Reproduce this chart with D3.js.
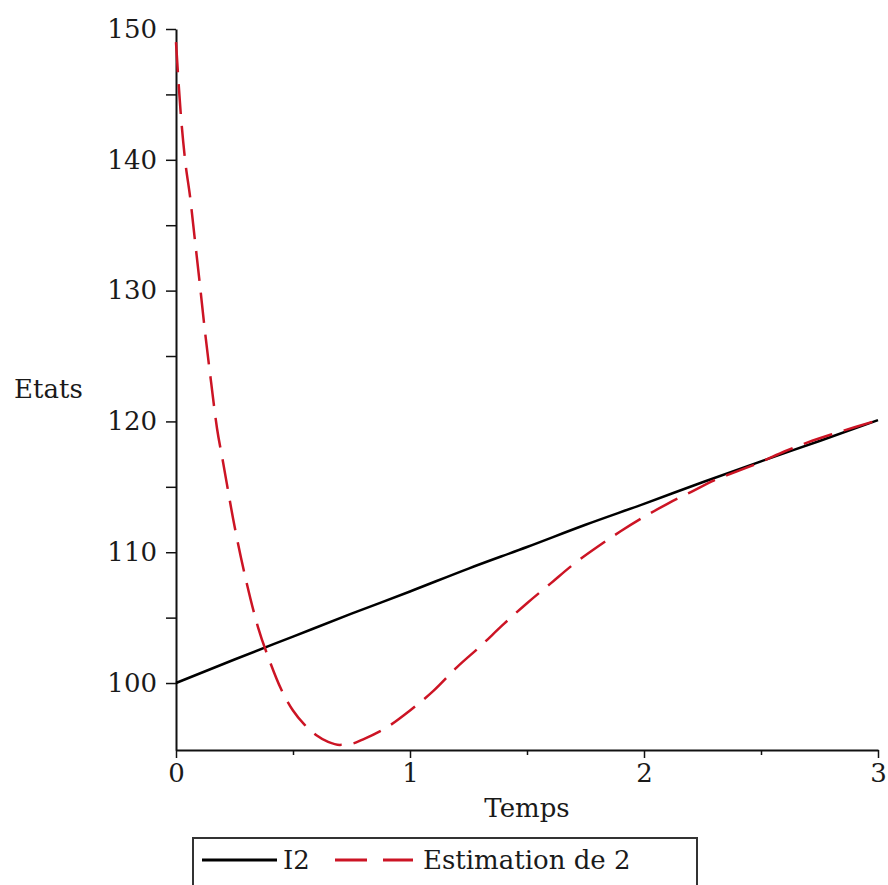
<!DOCTYPE html>
<html>
<head>
<meta charset="utf-8">
<script src="https://cdn.jsdelivr.net/npm/d3@7"></script>
<style>
  body { margin: 0; background: #fff; }
  text { font-family: "DejaVu Serif", serif; fill: #1a1a1a; }
</style>
</head>
<body>
<div id="chart"></div>
<script>
// I2 (black solid line)
const timeI2 = [0, 0.25, 0.5, 0.75, 1, 1.25, 1.5, 1.75, 2, 2.25, 2.5, 2.75, 3];
const valuesI2 = [100, 101.8, 103.55, 105.3, 107.0, 108.75, 110.4, 112.1, 113.7, 115.35, 116.95, 118.5, 120.1];

// Estimation de 2 (red dashed line)
const timeEst = [0, 0.02, 0.04, 0.06, 0.08, 0.1, 0.125, 0.15, 0.175, 0.2, 0.25, 0.3, 0.35, 0.4, 0.45, 0.5, 0.55,
  0.6, 0.65, 0.7, 0.75, 0.8, 0.9, 1.0, 1.1, 1.2, 1.3, 1.4, 1.5, 1.6, 1.7, 1.8, 1.9, 2.0, 2.1, 2.2, 2.3, 2.4, 2.5,
  2.6, 2.7, 2.8, 2.9, 3.0];
const valuesEst = [149, 143.6, 139.8, 137.2, 134.0, 130.8, 126.7, 123.0, 119.5, 117.0, 112.0, 107.8, 104.3, 101.7,
  99.5, 97.9, 96.8, 96.0, 95.5, 95.27, 95.35, 95.7, 96.6, 97.9, 99.4, 101.2, 102.8, 104.5, 106.1, 107.6, 109.1,
  110.4, 111.6, 112.7, 113.7, 114.6, 115.5, 116.2, 116.9, 117.7, 118.4, 119.0, 119.55, 120.1];

const xTicks = [0, 1, 2, 3];
const xMinorTicks = [0.5, 1.5, 2.5];
const yTicks = [100, 110, 120, 130, 140, 150];
const yMinorTicks = [105, 115, 125, 135, 145];

const seriesNames = ["I2", "Estimation de 2"];

const width = 888,
  height = 885;

const svg = d3.select("#chart")
  .append("svg")
  .attr("width", width)
  .attr("height", height);

const x = d3.scaleLinear().domain([0, 3]).range([176, 878]);
const y = d3.scaleLinear().domain([94.88, 150]).range([750, 29]);

const red = "#cc1424";

// axes
svg.append("g")
  .attr("transform", `translate(${x(0)},0)`)
  .call(d3.axisLeft(y).tickValues(yTicks).tickSize(10).tickSizeOuter(0).tickPadding(9));
svg.append("g")
  .attr("transform", `translate(${x(0)},0)`)
  .call(d3.axisLeft(y).tickValues(yMinorTicks).tickSize(10).tickFormat(""))
  .select(".domain").remove();

svg.append("g")
  .attr("transform", `translate(0,${y.range()[0]})`)
  .call(d3.axisBottom(x).tickValues(xTicks).tickSize(8).tickSizeOuter(0).tickPadding(6).tickFormat(d3.format("d")));
svg.append("g")
  .attr("transform", `translate(0,${y.range()[0]})`)
  .call(d3.axisBottom(x).tickValues(xMinorTicks).tickSize(5).tickFormat(""))
  .select(".domain").remove();

svg.selectAll(".domain").attr("stroke", "#111").attr("stroke-width", 2);
svg.selectAll(".tick line").attr("stroke", "#111").attr("stroke-width", 1.5);
svg.selectAll(".tick text")
  .style("font-family", "DejaVu Serif")
  .style("font-size", "26px")
  .attr("fill", "#1a1a1a");

// axis titles
svg.append("text")
  .attr("x", x(1.5))
  .attr("y", 817)
  .attr("text-anchor", "middle")
  .style("font-size", "26px")
  .text("Temps");

svg.append("text")
  .attr("x", 14)
  .attr("y", 398)
  .style("font-size", "26px")
  .text("Etats");

// lines
const lineI2 = d3.line()
  .x((d, i) => x(timeI2[i]))
  .y(d => y(d))
  .curve(d3.curveMonotoneX);

const lineEst = d3.line()
  .x((d, i) => x(timeEst[i]))
  .y(d => y(d))
  .curve(d3.curveMonotoneX);

svg.append("path")
  .datum(valuesI2)
  .attr("d", lineI2)
  .attr("fill", "none")
  .attr("stroke", "#000")
  .attr("stroke-width", 2.5);

svg.append("path")
  .datum(valuesEst)
  .attr("d", lineEst)
  .attr("fill", "none")
  .attr("stroke", red)
  .attr("stroke-width", 2.5)
  .attr("stroke-dasharray", "30,12");

// legend
const legend = svg.append("g");
legend.append("rect")
  .attr("x", 193)
  .attr("y", 838)
  .attr("width", 504)
  .attr("height", 60)
  .attr("fill", "#fff")
  .attr("stroke", "#333")
  .attr("stroke-width", 2);

legend.append("line")
  .attr("x1", 202).attr("x2", 277)
  .attr("y1", 860).attr("y2", 860)
  .attr("stroke", "#000")
  .attr("stroke-width", 3);
legend.append("text")
  .attr("x", 283)
  .attr("y", 869)
  .style("font-size", "26px")
  .text(seriesNames[0]);

legend.append("line")
  .attr("x1", 335).attr("x2", 413)
  .attr("y1", 860).attr("y2", 860)
  .attr("stroke", red)
  .attr("stroke-width", 3)
  .attr("stroke-dasharray", "32,16");
legend.append("text")
  .attr("x", 423)
  .attr("y", 869)
  .style("font-size", "26px")
  .text(seriesNames[1]);
</script>
</body>
</html>
